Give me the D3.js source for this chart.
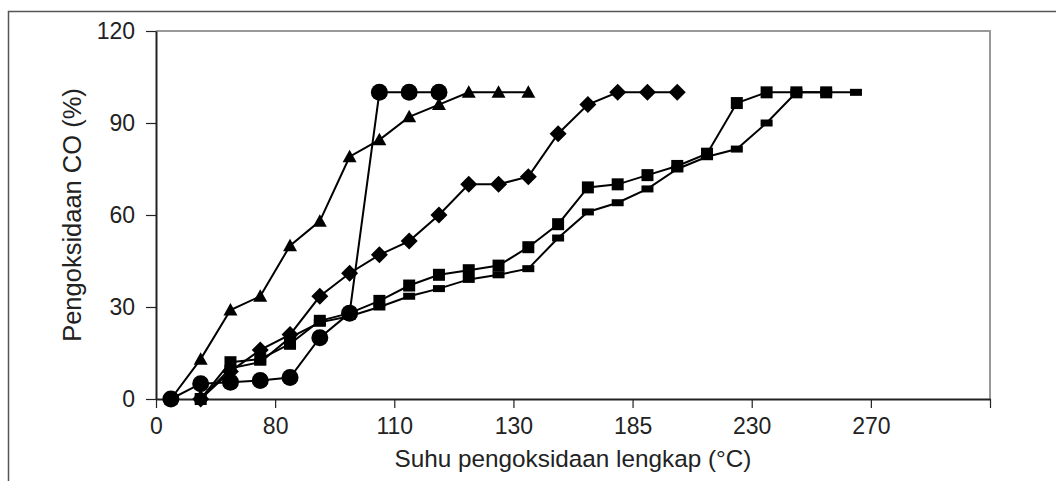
<!DOCTYPE html>
<html lang="id">
<head>
    <meta charset="UTF-8">
    <title>Pengoksidaan CO</title>
    <script src="https://d3js.org/d3.v7.min.js"></script>
    <style>
        body {
            margin: 0;
            padding: 0;
            background: #fff;
            font-family: "Liberation Sans", Arial, Helvetica, sans-serif;
        }
        svg text {
            fill: #222;
        }
    </style>
</head>
<body>
    <svg id="vis" width="1056" height="481"></svg>
    <script>
        // x axis: 28 evenly spaced categories, labelled every 4th boundary
        const tickLabels = ["0", "80", "110", "130", "185", "230", "270", ""];
        const yTicks = [0, 30, 60, 90, 120];

        // series values (null = no point at that category)
        const triangleSeries = [0, 13, 29, 33.5, 50, 58, 79, 84.5, 92, 96, 100, 100, 100];
        const circleSeries = [0, 5, 5.5, 6, 7, 20, 28, 100, 100, 100];
        const diamondSeries = [null, 0, 9, 16, 21, 33.5, 41, 47, 51.5, 60, 70, 70, 72.5, 86.5, 96, 100, 100, 100];
        const squareSeries = [null, 0, 12, 13, 18, 25.5, 28, 32, 37, 40.5, 42, 43.5, 49.5, 57, 69, 70, 73, 76, 80, 96.5, 100, 100, 100];
        const dashSeries = [null, 0, 10, 12, 20, 25, 27, 30, 33.5, 36, 39, 40.5, 42.5, 52.5, 61, 64, 68.5, 75, 79, 81.5, 90, 100, 100, 100];

        const nCats = 28;
        const margin = { left: 156, top: 31, right: 66, bottom: 82 };
        const width = 1056, height = 481;

        const svg = d3.select("#vis");

        const x = d3.scaleLinear().domain([0, nCats]).range([margin.left, width - margin.right]);
        const y = d3.scaleLinear().domain([0, 120]).range([height - margin.bottom, margin.top]);

        // outer frame (cut off by the right and bottom edges)
        svg.append("path")
            .attr("d", `M8.5,${height + 2}V11.5H${width + 2}`)
            .attr("fill", "none")
            .attr("stroke", "#555")
            .attr("stroke-width", 1.5);

        // plot frame: top and right in gray
        svg.append("path")
            .attr("d", `M${margin.left},${margin.top}H${x(nCats)}V${y(0)}`)
            .attr("fill", "none")
            .attr("stroke", "#999")
            .attr("stroke-width", 2);

        const xAxis = svg.append("g")
            .attr("transform", `translate(0,${y(0)})`)
            .call(d3.axisBottom(x)
                .tickValues(d3.range(0, nCats + 1, 4))
                .tickFormat((d, i) => tickLabels[i])
                .tickSize(9)
                .tickSizeOuter(0)
                .tickPadding(10));

        const yAxis = svg.append("g")
            .attr("transform", `translate(${margin.left},0)`)
            .call(d3.axisLeft(y)
                .tickValues(yTicks)
                .tickSize(10)
                .tickSizeOuter(0)
                .tickPadding(11));

        [xAxis, yAxis].forEach(g => {
            g.select(".domain").attr("stroke", "#222").attr("stroke-width", 2);
            g.selectAll(".tick line").attr("stroke", "#222").attr("stroke-width", 1.2);
            g.selectAll(".tick text")
                .attr("font-family", "'Liberation Sans', Arial, sans-serif")
                .attr("font-size", 23)
                .attr("fill", "#222");
        });

        svg.append("text")
            .attr("x", (x(0) + x(nCats)) / 2)
            .attr("y", 467)
            .attr("text-anchor", "middle")
            .attr("font-size", 24.3)
            .text("Suhu pengoksidaan lengkap (°C)");

        svg.append("text")
            .attr("transform", `translate(81,${(y(0) + y(120)) / 2}) rotate(-90)`)
            .attr("text-anchor", "middle")
            .attr("font-size", 25.5)
            .text("Pengoksidaan CO (%)");

        // marker shapes, drawn around the point centre
        const markers = {
            dash: "M-6,-3.5H6V3.5H-6Z",
            square: "M-6,-6H6V6H-6Z",
            diamond: "M0,-8.5L8.5,0L0,8.5L-8.5,0Z",
            triangle: "M0,-7L7,5.5L-7,5.5Z",
            circle: d3.symbol(d3.symbolCircle, Math.PI * 8.5 * 8.5)()
        };

        const series = [
            { values: dashSeries, marker: "dash" },
            { values: squareSeries, marker: "square" },
            { values: diamondSeries, marker: "diamond" },
            { values: triangleSeries, marker: "triangle" },
            { values: circleSeries, marker: "circle" }
        ];

        const line = d3.line()
            .defined(d => d.v != null)
            .x(d => x(d.i + 0.5))
            .y(d => y(d.v));

        series.forEach(s => {
            const pts = s.values.map((v, i) => ({ i, v }));
            const g = svg.append("g");
            g.append("path")
                .attr("d", line(pts))
                .attr("fill", "none")
                .attr("stroke", "#000")
                .attr("stroke-width", 2);
            g.selectAll("path.mk")
                .data(pts.filter(d => d.v != null))
                .join("path")
                .attr("class", "mk")
                .attr("transform", d => `translate(${x(d.i + 0.5)},${y(d.v)})`)
                .attr("d", markers[s.marker])
                .attr("fill", "#000");
        });
    </script>
</body>
</html>
